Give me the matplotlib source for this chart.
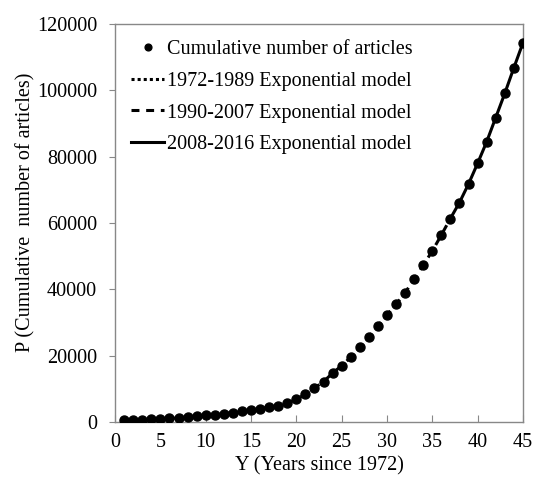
import matplotlib
matplotlib.use("Agg")
import matplotlib.pyplot as plt
import numpy as np

years = list(range(1, 46))
articles = [500, 600, 700, 900, 1000, 1100, 1300, 1500, 1800, 2100,
            2300, 2600, 2900, 3300, 3700, 4100, 4500, 5000, 5700, 6900,
            8400, 10300, 12200, 14800, 17000, 19600, 22600, 25700, 29000, 32300,
            35500, 39000, 43100, 47300, 51600, 56400, 61400, 66200, 71800, 78000,
            84500, 91800, 99100, 106800, 114300]
seg1 = (1, 18)
seg2 = (19, 37)
seg3 = (37, 45)
xticks = [0, 5, 10, 15, 20, 25, 30, 35, 40, 45]
yticks = [0, 20000, 40000, 60000, 80000, 100000, 120000]

plt.rcParams['font.family'] = ['Liberation Serif', 'DejaVu Serif']

fig = plt.figure(figsize=(5.33, 4.83), dpi=100)
ax = fig.add_axes([0.216, 0.126, 0.765, 0.824])

x = np.array(years)
y = np.array(articles)

def seg(a, b):
    m = (x >= a) & (x <= b)
    return x[m], y[m]

ax.plot(x, y, 'o', color='black', markersize=6.5, label='Cumulative number of articles', zorder=3)
sx, sy = seg(*seg1)
ax.plot(sx, sy, linestyle=(0, (1, 1)), color='black', lw=2.2, label='1972-1989 Exponential model')
sx, sy = seg(*seg2)
ax.plot(sx, sy, linestyle=(0, (2.6, 2.2)), color='black', lw=2.2, label='1990-2007 Exponential model')
sx, sy = seg(*seg3)
ax.plot(sx, sy, linestyle='-', color='black', lw=2.2, label='2008-2016 Exponential model')

ax.set_xlim(0, 45)
ax.set_ylim(0, 120000)
ax.set_xticks(xticks)
ax.set_yticks(yticks)
ax.tick_params(axis='x', direction='in', length=5, color='#888888', labelsize=14.5, pad=8)
ax.tick_params(axis='y', direction='out', length=4, color='#888888', labelsize=14.5, pad=9)
for s in ax.spines.values():
    s.set_color('#888888')
    s.set_linewidth(1.0)

ax.set_xlabel('Y (Years since 1972)', fontsize=14.5, labelpad=3)
ax.set_ylabel('P (Cumulative  number of articles)', fontsize=14.5)
ax.yaxis.set_label_coords(-0.196, 0.528)

leg = ax.legend(loc='upper left', frameon=False, fontsize=14.5, handlelength=1.65,
                handletextpad=0.15, labelspacing=0.62, borderaxespad=0.4,
                markerscale=0.75, bbox_to_anchor=(0.0, 1.0))

fig.savefig('out.png', dpi=100)
